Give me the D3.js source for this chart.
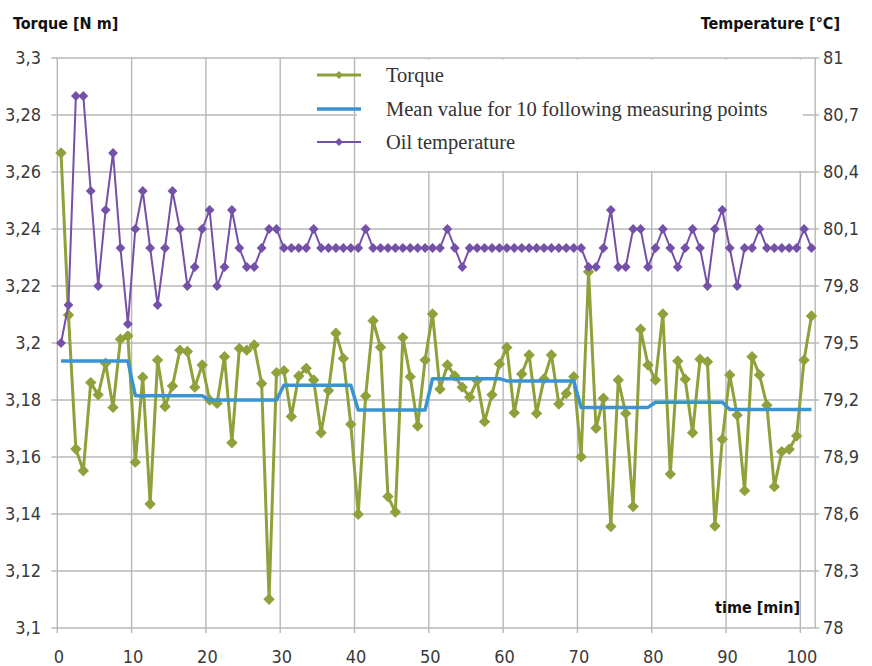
<!DOCTYPE html>
<html><head><meta charset="utf-8">
<script src="https://cdn.jsdelivr.net/npm/d3@7"></script>
<style>
html,body{margin:0;padding:0;background:#fff;}
svg{display:block;}
.tick{font-family:"Liberation Sans Narrow","DejaVu Sans Condensed",sans-serif;font-size:18px;fill:#3a3a3a;}
.ttl{font-family:"Liberation Sans Narrow","DejaVu Sans Condensed",sans-serif;font-size:16px;font-weight:bold;fill:#111;}
.leg{font-family:"Liberation Serif","Times New Roman",serif;font-size:20.5px;fill:#333;}
</style></head>
<body>
<svg id="c" width="872" height="666"></svg>
<script>
const torque = [3.2667,3.2098,3.1628,3.1552,3.1861,3.1818,3.1929,3.1774,3.2013,3.2025,
3.1582,3.188,3.1435,3.194,3.1777,3.1849,3.1975,3.197,3.1845,3.1923,
3.18,3.1788,3.1952,3.165,3.1981,3.1975,3.1993,3.1858,3.1101,3.1896,
3.1903,3.1742,3.1884,3.1911,3.187,3.1685,3.1833,3.2034,3.1946,3.1715,
3.1399,3.1814,3.2078,3.1985,3.1461,3.1407,3.2019,3.1882,3.1709,3.194,
3.2102,3.1838,3.1923,3.1884,3.1845,3.181,3.1868,3.1724,3.1818,3.1926,
3.1984,3.1755,3.1891,3.1958,3.1753,3.1874,3.1958,3.1786,3.1823,3.1882,
3.1601,3.225,3.1701,3.1806,3.1356,3.187,3.1753,3.1426,3.2048,3.1923,
3.187,3.2102,3.154,3.1937,3.1873,3.1685,3.1943,3.1934,3.1358,3.1662,
3.1888,3.1747,3.1482,3.1952,3.1888,3.1782,3.1496,3.1619,3.1627,3.1674,
3.194,3.2095];

const meanValue = [3.1937,3.1937,3.1937,3.1937,3.1937,3.1937,3.1937,3.1937,3.1937,3.1937,
3.1815,3.1815,3.1815,3.1815,3.1815,3.1815,3.1815,3.1815,3.1815,3.1815,
3.1800,3.1800,3.1800,3.1800,3.1800,3.1800,3.1800,3.1800,3.1800,3.1800,
3.1852,3.1852,3.1852,3.1852,3.1852,3.1852,3.1852,3.1852,3.1852,3.1852,
3.1765,3.1765,3.1765,3.1765,3.1765,3.1765,3.1765,3.1765,3.1765,3.1765,
3.1875,3.1875,3.1875,3.1875,3.1875,3.1875,3.1875,3.1875,3.1875,3.1875,
3.1867,3.1867,3.1867,3.1867,3.1867,3.1867,3.1867,3.1867,3.1867,3.1867,
3.1774,3.1774,3.1774,3.1774,3.1774,3.1774,3.1774,3.1774,3.1774,3.1774,
3.1792,3.1792,3.1792,3.1792,3.1792,3.1792,3.1792,3.1792,3.1792,3.1792,
3.1767,3.1767,3.1767,3.1767,3.1767,3.1767,3.1767,3.1767,3.1767,3.1767,
3.1767,3.1767];

const oilTemp = [79.5,79.7,80.8,80.8,80.3,79.8,80.2,80.5,80.0,79.6,
80.1,80.3,80.0,79.7,80.0,80.3,80.1,79.8,79.9,80.1,
80.2,79.8,79.9,80.2,80.0,79.9,79.9,80.0,80.1,80.1,
80.0,80.0,80.0,80.0,80.1,80.0,80.0,80.0,80.0,80.0,
80.0,80.1,80.0,80.0,80.0,80.0,80.0,80.0,80.0,80.0,
80.0,80.0,80.1,80.0,79.9,80.0,80.0,80.0,80.0,80.0,
80.0,80.0,80.0,80.0,80.0,80.0,80.0,80.0,80.0,80.0,
80.0,79.9,79.9,80.0,80.2,79.9,79.9,80.1,80.1,79.9,
80.0,80.1,80.0,79.9,80.0,80.1,80.0,79.8,80.1,80.2,
80.0,79.8,80.0,80.0,80.1,80.0,80.0,80.0,80.0,80.0,
80.1,80.0];

const xTicks = [0,10,20,30,40,50,60,70,80,90,100];
const xTickLabels = ["0","10","20","30","40","50","60","70","80","90","100"];
const leftTicks = [3.1,3.12,3.14,3.16,3.18,3.2,3.22,3.24,3.26,3.28,3.3];
const leftTickLabels = ["3,1","3,12","3,14","3,16","3,18","3,2","3,22","3,24","3,26","3,28","3,3"];
const rightTicks = [78,78.3,78.6,78.9,79.2,79.5,79.8,80.1,80.4,80.7,81];
const rightTickLabels = ["78","78,3","78,6","78,9","79,2","79,5","79,8","80,1","80,4","80,7","81"];
const seriesNames = ["Torque","Mean value for 10 following measuring points","Oil temperature"];

const C_GREEN = "#8ea13b", C_BLUE = "#3b94d2", C_PURPLE = "#7450a8", C_GRID = "#b8b8b8";

const svg = d3.select("#c");
const L = 57.3, R = 815.2, T = 58, B = 628;
const x = d3.scaleLinear().domain([0,102]).range([L,R]);
const yL = d3.scaleLinear().domain([3.1,3.3]).range([B,T]);
const yR = d3.scaleLinear().domain([78,81]).range([B,T]);

const g = svg.append("g");
g.selectAll("line.h").data(leftTicks).join("line")
  .attr("x1",L-6).attr("x2",R+4)
  .attr("y1",d=>yL(d)).attr("y2",d=>yL(d))
  .attr("stroke",C_GRID).attr("stroke-width",1.4);
g.selectAll("line.v").data(xTicks).join("line")
  .attr("x1",d=>x(d)).attr("x2",d=>x(d))
  .attr("y1",T).attr("y2",B+5)
  .attr("stroke",C_GRID).attr("stroke-width",1.4);
g.append("line").attr("x1",R).attr("x2",R).attr("y1",T).attr("y2",B)
  .attr("stroke",C_GRID).attr("stroke-width",1.4);

svg.append("rect").attr("x",357).attr("y",59.5).attr("width",446).attr("height",111.5).attr("fill","#fff");

svg.selectAll("text.lt").data(leftTicks).join("text").attr("class","tick")
  .attr("x",41).attr("y",d=>yL(d)).attr("dy","0.35em").attr("text-anchor","end")
  .text((d,i)=>leftTickLabels[i]);
svg.selectAll("text.rt").data(rightTicks).join("text").attr("class","tick")
  .attr("x",823).attr("y",d=>yR(d)).attr("dy","0.35em").attr("text-anchor","start")
  .text((d,i)=>rightTickLabels[i]);
svg.selectAll("text.xt").data(xTicks).join("text").attr("class","tick")
  .attr("x",d=>x(d)+1.5).attr("y",663).attr("text-anchor","middle")
  .text((d,i)=>xTickLabels[i]);

svg.append("text").attr("class","ttl").attr("x",13).attr("y",29).text("Torque [N m]");
svg.append("text").attr("class","ttl").attr("x",840).attr("y",29).attr("text-anchor","end").text("Temperature [°C]");
svg.append("text").attr("class","ttl").attr("x",800).attr("y",613).attr("text-anchor","end").text("time [min]");

const diamond = r => `M0,${-r}L${r},0L0,${r}L${-r},0Z`;
const idx = d3.range(torque.length);

svg.append("path").datum(idx)
  .attr("d",d3.line().x(i=>x(i+0.5)).y(i=>yL(torque[i])))
  .attr("fill","none").attr("stroke",C_GREEN).attr("stroke-width",3).attr("stroke-linejoin","round");
svg.append("g").selectAll("path").data(idx).join("path")
  .attr("d",diamond(5.7)).attr("transform",i=>`translate(${x(i+0.5)},${yL(torque[i])})`)
  .attr("fill",C_GREEN);

svg.append("path").datum(idx)
  .attr("d",d3.line().x(i=>x(i+0.5)).y(i=>yL(meanValue[i])))
  .attr("fill","none").attr("stroke",C_BLUE).attr("stroke-width",3.5).attr("stroke-linejoin","round");

svg.append("path").datum(idx)
  .attr("d",d3.line().x(i=>x(i+0.5)).y(i=>yR(oilTemp[i])))
  .attr("fill","none").attr("stroke",C_PURPLE).attr("stroke-width",2).attr("stroke-linejoin","round");
svg.append("g").selectAll("path").data(idx).join("path")
  .attr("d",diamond(4.9)).attr("transform",i=>`translate(${x(i+0.5)},${yR(oilTemp[i])})`)
  .attr("fill",C_PURPLE);

const legY = [75,109,142];
const legCol = [C_GREEN,C_BLUE,C_PURPLE];
const lg = svg.append("g");
seriesNames.forEach((n,k)=>{
  lg.append("line").attr("x1",317).attr("x2",361).attr("y1",legY[k]).attr("y2",legY[k])
    .attr("stroke",legCol[k]).attr("stroke-width",k===1?3.5:(k===0?3:2));
  if(k!==1) lg.append("path").attr("d",diamond(4)).attr("transform",`translate(339,${legY[k]})`).attr("fill",legCol[k]);
  lg.append("text").attr("class","leg").attr("x",386).attr("y",legY[k]).attr("dy","0.33em").text(n);
});
</script>
</body></html>
